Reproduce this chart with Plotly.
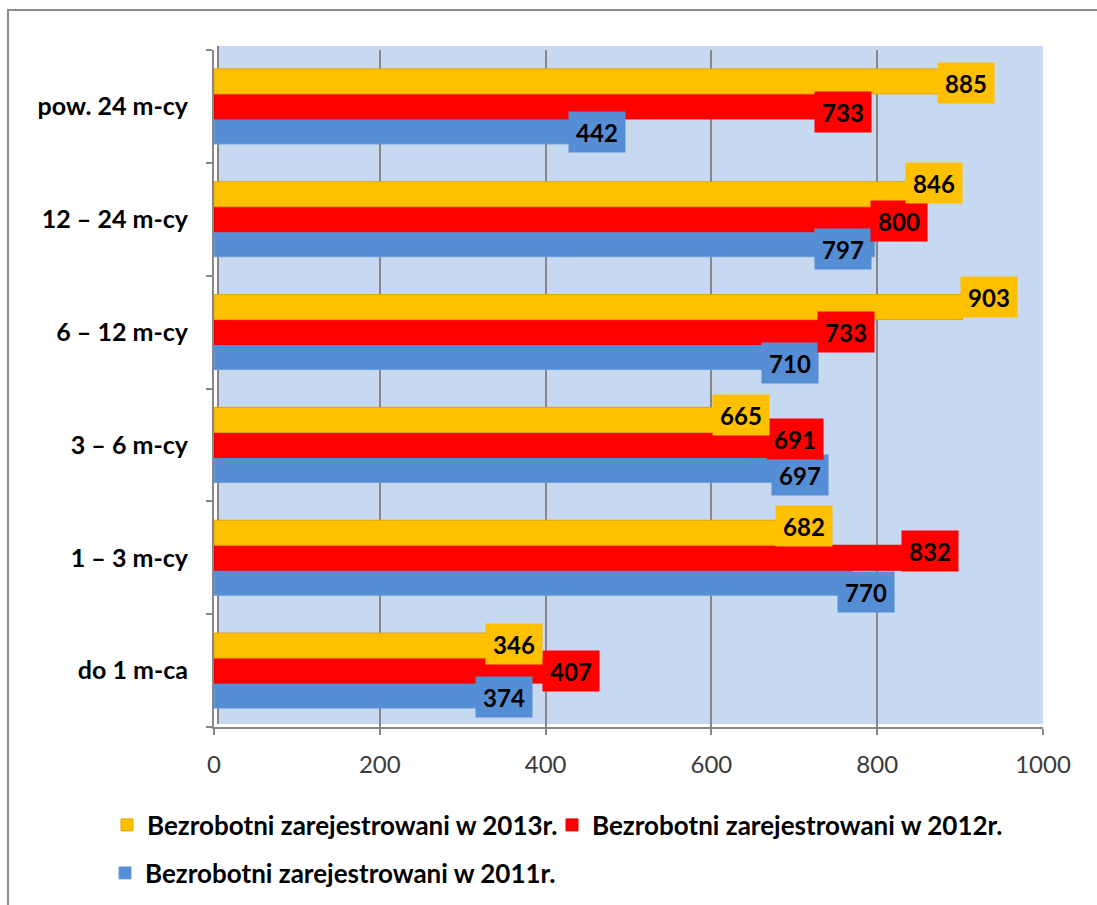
import plotly.graph_objects as go

# ---------------- data ----------------
categories = ["do 1 m-ca", "1 – 3 m-cy", "3 – 6 m-cy", "6 – 12 m-cy", "12 – 24 m-cy", "pow. 24 m-cy"]
name_2011 = "Bezrobotni zarejestrowani w 2011r."
name_2012 = "Bezrobotni zarejestrowani w 2012r."
name_2013 = "Bezrobotni zarejestrowani w 2013r."
values_2011 = [374, 770, 697, 710, 797, 442]
values_2012 = [407, 832, 691, 733, 800, 733]
values_2013 = [346, 682, 665, 903, 846, 885]
x_tick_values = [0, 200, 400, 600, 800, 1000]

# ---------------- styles ----------------
W, H = 1097, 905
ML, MR, MT, MB = 214, 54, 50, 178
PLOT_W = W - ML - MR
PLOT_H = H - MT - MB
BARGAP = 0.335
FONT = "Lato, 'Open Sans', sans-serif"
GRID = "#878787"
COL = {"2011": "#558ED5", "2012": "#FF0000", "2013": "#FFC000"}
EDGE = {"2011": "#6C9CD8", "2012": "#E60000", "2013": "#E0A500"}

# data-label nudges in pixels (Excel moved some labels to avoid overlaps)
label_dx = {
    "2013": [13, 24.6, -24, 26.5, 19, 18.5],
    "2012": [19.4, 26.4, 8, 24, 22, 21],
    "2011": [-20, 13.7, 8, -12.6, -32, 17],
}
label_dy = {
    "2013": [-1.5, -7, -4.5, -10, -11, 1.5],
    "2012": [0, -7, -5.5, 0, 2, 6],
    "2011": [1, 9, 5.5, 6, 5, 1],
}

series = [("2011", name_2011, values_2011, "legend3"),
          ("2012", name_2012, values_2012, "legend2"),
          ("2013", name_2013, values_2013, "legend")]

fig = go.Figure()
for key, name, vals, lg in series:
    fig.add_trace(go.Bar(
        y=categories, x=vals, orientation="h", name=name,
        marker=dict(color=COL[key], line=dict(color=EDGE[key], width=1)),
        legend=lg, hoverinfo="x+name",
    ))

cat_px = PLOT_H / len(categories)
bar_px = cat_px * (1 - BARGAP) / 3
annotations = []
for i, (key, name, vals, lg) in enumerate(series):
    base_shift = (i - 1) * bar_px
    for j, v in enumerate(vals):
        annotations.append(dict(
            x=v, y=categories[j], xref="x", yref="y",
            text=str(v), showarrow=False,
            xanchor="center", yanchor="middle",
            xshift=label_dx[key][j], yshift=base_shift - label_dy[key][j],
            width=56, height=40, borderpad=0, bgcolor=COL[key],
            font=dict(family=FONT, size=24, color="black", weight="bold"),
        ))


def px_x(p):
    return (p - ML) / PLOT_W


def px_y(p):
    return (H - MB - p) / PLOT_H


shapes = [
    # back wall of the (pseudo 3-D) plot area
    dict(type="rect", xref="paper", yref="paper",
         x0=px_x(218), x1=1, y0=px_y(724), y1=px_y(46),
         fillcolor="#C6D9F1", line=dict(width=0), layer="below"),
    dict(type="line", xref="paper", yref="paper",
         x0=px_x(218), x1=px_x(218), y0=px_y(724), y1=px_y(46),
         line=dict(color=GRID, width=2), layer="below"),
    # chart border
    dict(type="path", xref="paper", yref="paper",
         path=f"M {px_x(8)},{px_y(920)} L {px_x(8)},{px_y(10)} L {px_x(1110)},{px_y(10)}",
         line=dict(color="#8C8C8C", width=2), layer="above"),
]

legend_font = dict(family=FONT, size=26, color="black", weight="bold")
legend_common = dict(orientation="h", xref="container", yref="container",
                     xanchor="left", yanchor="middle", font=legend_font,
                     bgcolor="rgba(0,0,0,0)", itemwidth=30)

fig.update_layout(
    width=W, height=H, autosize=False,
    margin=dict(l=ML, r=MR, t=MT, b=MB, pad=0),
    paper_bgcolor="white", plot_bgcolor="white",
    barmode="group", bargap=BARGAP, bargroupgap=0,
    annotations=annotations, shapes=shapes,
    font=dict(family=FONT, color="black"),
    xaxis=dict(
        range=[0, 1000], tickvals=x_tick_values, ticktext=[str(t) for t in x_tick_values],
        showgrid=True, gridcolor=GRID, gridwidth=2, zeroline=False,
        showline=True, linecolor=GRID, linewidth=2,
        ticks="outside", ticklen=6, tickwidth=2, tickcolor=GRID,
        tickfont=dict(family=FONT, size=24, color="#3A3A3A"),
        ticklabelstandoff=9,
    ),
    yaxis=dict(
        type="category", categoryorder="array", categoryarray=categories,
        showgrid=False, zeroline=False,
        showline=True, linecolor=GRID, linewidth=2,
        ticks="outside", tickson="boundaries", ticklen=6, tickwidth=2, tickcolor=GRID,
        tickfont=dict(family=FONT, size=25, color="black", weight="bold"),
        ticklabelstandoff=19,
    ),
    legend=dict(legend_common, x=107 / W, y=1 - 825 / H),
    legend2=dict(legend_common, x=552 / W, y=1 - 825 / H),
    legend3=dict(legend_common, x=105 / W, y=1 - 873 / H),
    showlegend=True,
)

fig.write_html("out.html", config={"displayModeBar": False},
               post_script="document.body.style.margin='0';")
